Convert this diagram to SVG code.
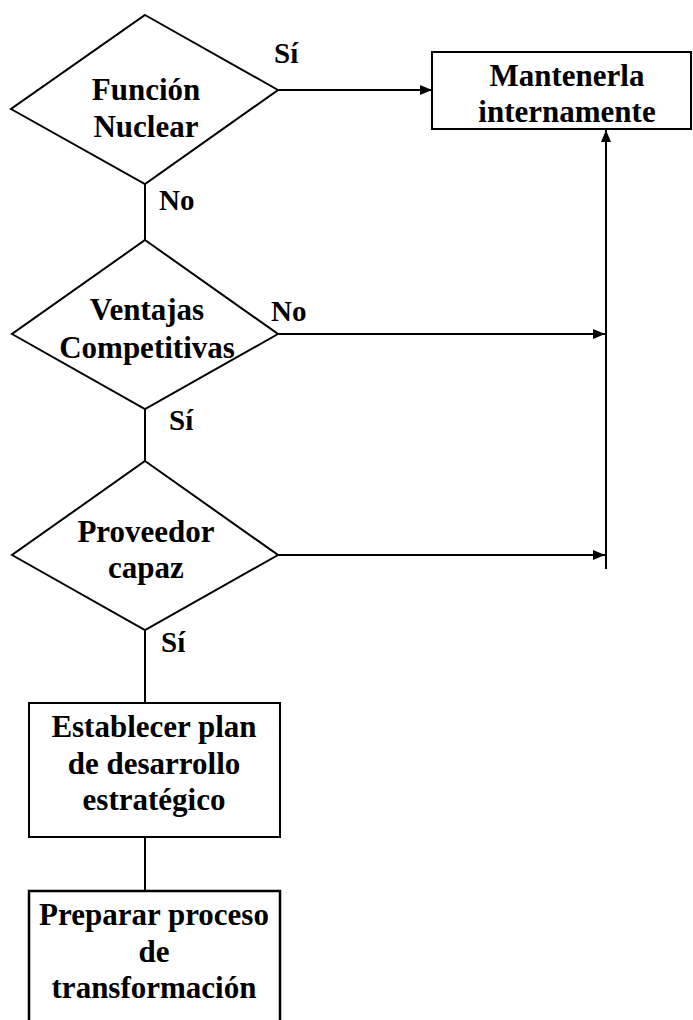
<svg xmlns="http://www.w3.org/2000/svg" width="693" height="1020" viewBox="0 0 693 1020">
  <style>
    .shape { fill: #ffffff; stroke: #000000; stroke-width: 2; }
    .line { fill: none; stroke: #000000; stroke-width: 2; }
    .txt { font-family: "Liberation Serif", "Times New Roman", serif; font-weight: bold; font-size: 31px; fill: #000000; text-anchor: middle; }
    .lbl { font-family: "Liberation Serif", "Times New Roman", serif; font-weight: bold; font-size: 29px; fill: #000000; }
  </style>
  <defs>
    <marker id="arrow" viewBox="0 0 12 10" refX="12" refY="5" markerWidth="12" markerHeight="10" markerUnits="userSpaceOnUse" orient="auto">
      <path d="M0,0 L12,5 L0,10 Z" fill="#000000"/>
    </marker>
  </defs>

  <!-- connectors -->
  <g id="connectors">
    <line class="line" x1="278" y1="90" x2="432" y2="90" marker-end="url(#arrow)"/>
    <line class="line" x1="145" y1="184" x2="145" y2="240"/>
    <line class="line" x1="278" y1="334" x2="605" y2="334" marker-end="url(#arrow)"/>
    <line class="line" x1="145" y1="409" x2="145" y2="461"/>
    <line class="line" x1="278" y1="555" x2="605" y2="555" marker-end="url(#arrow)"/>
    <line class="line" x1="606" y1="569" x2="606" y2="130" marker-end="url(#arrow)"/>
    <line class="line" x1="145" y1="630" x2="145" y2="703"/>
    <line class="line" x1="145" y1="837" x2="145" y2="891"/>
    <text class="lbl" x="274" y="63">Sí</text>
    <text class="lbl" x="159" y="210">No</text>
    <text class="lbl" x="271" y="321">No</text>
    <text class="lbl" x="169" y="430">Sí</text>
    <text class="lbl" x="161" y="652">Sí</text>
  </g>

  <!-- decision: Función Nuclear -->
  <g id="funcion-nuclear">
    <polygon class="shape" points="145,15 278,90 145,184 11,109"/>
    <text class="txt" x="146" y="100">Función</text>
    <text class="txt" x="146" y="137">Nuclear</text>
  </g>

  <!-- process: Mantenerla internamente -->
  <g id="mantenerla">
    <rect class="shape" x="432" y="52" width="259" height="77"/>
    <text class="txt" x="567" y="86">Mantenerla</text>
    <text class="txt" x="567" y="122">internamente</text>
  </g>

  <!-- decision: Ventajas Competitivas -->
  <g id="ventajas">
    <polygon class="shape" points="145,240 278,334 145,409 12,334"/>
    <text class="txt" x="147" y="320">Ventajas</text>
    <text class="txt" x="147" y="358">Competitivas</text>
  </g>

  <!-- decision: Proveedor capaz -->
  <g id="proveedor">
    <polygon class="shape" points="145,461 278,555 145,630 12,555"/>
    <text class="txt" x="146" y="542">Proveedor</text>
    <text class="txt" x="146" y="578">capaz</text>
  </g>

  <!-- process: Establecer plan -->
  <g id="establecer">
    <rect class="shape" x="29" y="703" width="251" height="134"/>
    <text class="txt" x="154" y="737">Establecer plan</text>
    <text class="txt" x="154" y="774">de desarrollo</text>
    <text class="txt" x="154" y="810">estratégico</text>
  </g>

  <!-- process: Preparar proceso -->
  <g id="preparar">
    <rect class="shape" x="29" y="891" width="251" height="140" style="stroke-width:2.5"/>
    <text class="txt" x="154" y="925">Preparar proceso</text>
    <text class="txt" x="154" y="962">de</text>
    <text class="txt" x="154" y="998">transformación</text>
  </g>
</svg>
